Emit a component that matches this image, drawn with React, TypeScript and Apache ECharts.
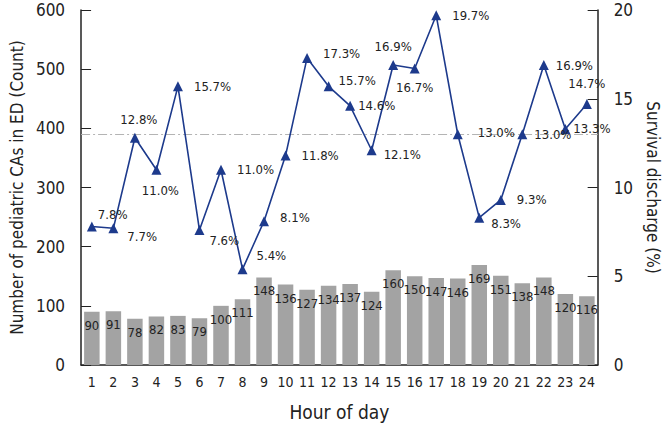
import React, { useEffect, useRef } from "react";
import * as echarts from "echarts";

const hours = ["1","2","3","4","5","6","7","8","9","10","11","12","13","14","15","16","17","18","19","20","21","22","23","24"];
const counts = [90, 91, 78, 82, 83, 79, 100, 111, 148, 136, 127, 134, 137, 124, 160, 150, 147, 146, 169, 151, 138, 148, 120, 116];
const survival = [7.8, 7.7, 12.8, 11.0, 15.7, 7.6, 11.0, 5.4, 8.1, 11.8, 17.3, 15.7, 14.6, 12.1, 16.9, 16.7, 19.7, 13.0, 8.3, 9.3, 13.0, 16.9, 13.3, 14.7];
const overallSurvival = 13.0;
// label placement for each point: [position, dx, dy]
const labelPlace: [string, number, number][] = [
  ["right", -4, -12], ["right", 4, 8], ["top", 4, -2], ["bottom", 4, 4], ["right", 6, 0],
  ["right", 0, 10], ["right", 6, 0], ["right", 4, -14], ["right", 6, -4], ["right", 6, 0],
  ["right", 6, -4], ["right", 0, -6], ["right", -2, 0], ["right", 2, 4], ["top", 0, -2],
  ["bottom", 0, 2], ["right", 6, 0], ["right", 10, -2], ["right", 2, 6], ["right", 6, 0],
  ["right", 2, 0], ["right", 2, 0], ["right", -2, 0], ["top", 0, -4],
];

const FONT = "'DejaVu Sans Condensed', 'Liberation Sans Narrow', 'Roboto', sans-serif";

export default function App() {
  const ref = useRef<HTMLDivElement>(null);
  useEffect(() => {
    const chart = echarts.init(ref.current!, null, { renderer: "svg" });
    chart.setOption({
      animation: false,
      textStyle: { fontFamily: FONT },
      grid: { left: 73, right: 61, top: 10, bottom: 58, containLabel: false },
      xAxis: {
        type: "category",
        data: hours,
        name: "Hour of day",
        nameLocation: "middle",
        nameGap: 37,
        nameTextStyle: { fontSize: 19, color: "#222", fontFamily: FONT },
        axisLine: { lineStyle: { color: "#222", width: 1.5 } },
        axisTick: { show: false },
        axisLabel: { fontSize: 14, color: "#222", margin: 10, fontFamily: FONT, interval: 0 },
      },
      yAxis: [
        {
          type: "value",
          min: 0,
          max: 600,
          interval: 100,
          name: "Number of pediatric CAs in ED (Count)",
          nameLocation: "middle",
          nameGap: 52,
          nameTextStyle: { fontSize: 17, color: "#222", fontFamily: FONT },
          axisLine: { show: true, lineStyle: { color: "#222", width: 1.5 } },
          axisTick: { show: true, inside: true, length: 10, lineStyle: { color: "#222" } },
          axisLabel: { fontSize: 17, color: "#222", margin: 16, fontFamily: FONT },
          splitLine: { show: false },
        },
        {
          type: "value",
          min: 0,
          max: 20,
          interval: 5,
          name: "Survival discharge (%)",
          nameLocation: "middle",
          nameGap: 44,
          nameRotate: -90,
          nameTextStyle: { fontSize: 17, color: "#222", fontFamily: FONT },
          axisLine: { show: true, lineStyle: { color: "#222", width: 1.5 } },
          axisTick: { show: true, inside: true, length: 10, lineStyle: { color: "#222" } },
          axisLabel: { fontSize: 17, color: "#222", margin: 16, fontFamily: FONT },
          splitLine: { show: false },
        },
      ],
      series: [
        {
          type: "bar",
          data: counts,
          barWidth: "72%",
          itemStyle: { color: "#a3a3a3" },
          label: { show: true, position: "insideTop", offset: [0, 2], fontSize: 13, color: "#222", fontFamily: FONT },
          yAxisIndex: 0,
        },
        {
          type: "line",
          yAxisIndex: 1,
          data: survival.map((v, i) => ({
            value: v,
            label: {
              position: labelPlace[i][0],
              offset: [labelPlace[i][1], labelPlace[i][2]],
            },
          })),
          symbol: "triangle",
          symbolSize: 10,
          lineStyle: { color: "#1d3a8c", width: 1.6 },
          itemStyle: { color: "#1d3a8c" },
          label: {
            show: true,
            formatter: (p: any) => p.value.toFixed(1) + "%",
            fontSize: 13,
            color: "#222",
            fontFamily: FONT,
          },
          markLine: {
            silent: true,
            symbol: "none",
            label: { show: false },
            lineStyle: { color: "#b4b4b4", type: [9, 3, 2, 3], width: 1.2 },
            data: [{ yAxis: overallSurvival }],
          },
          z: 5,
        },
      ],
    });
    return () => chart.dispose();
  }, []);
  return <div ref={ref} style={{ width: 669, height: 426, position: "absolute", left: 0, top: 0 }} />;
}
